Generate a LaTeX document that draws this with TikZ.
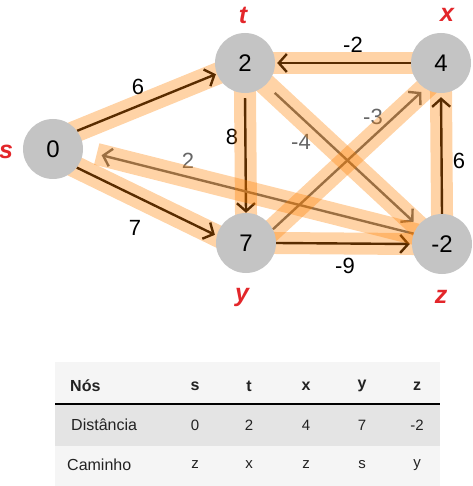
\documentclass[tikz,border=0pt]{standalone}
\usepackage{fontspec}
\setmainfont{Liberation Sans}
\usetikzlibrary{arrows.meta}
\definecolor{vfill}{HTML}{C4C4C4}
\definecolor{lblred}{HTML}{E3262A}
\definecolor{hilite}{HTML}{FF8000}
\definecolor{rowlight}{HTML}{F5F5F5}
\definecolor{rowdark}{HTML}{E4E4E4}
\definecolor{tabtext}{HTML}{222222}
\definecolor{greyedge}{HTML}{666666}
\pgfdeclarelayer{edges}
\pgfdeclarelayer{bands}
\pgfsetlayers{edges,bands,main}
\tikzset{
  vert/.style={circle, fill=vfill, minimum size=60pt, inner sep=0pt,
    font=\fontsize{24}{26}\selectfont},
  vname/.style={text=lblred, font=\fontsize{25}{27}\selectfont\bfseries\itshape},
  edge/.style={line width=2.4pt, draw=black,
    -{Straight Barb[length=8pt,width=18pt,line width=2.4pt]}},
  gedge/.style={edge, draw=greyedge},
  band/.style={line width=22pt, draw=hilite, draw opacity=0.35, line cap=butt,
    shorten <=-8pt, shorten >=-8pt},
  elabel/.style={font=\fontsize{22}{24}\selectfont, text=black, inner sep=0pt},
  glabel/.style={elabel, text=greyedge},
  thead/.style={font=\fontsize{16}{18}\selectfont\bfseries, text=tabtext, inner sep=0pt},
  tcell/.style={font=\fontsize{15}{17}\selectfont, text=tabtext, inner sep=0pt},
  trow/.style={font=\fontsize{16}{18}\selectfont, text=tabtext, inner sep=0pt, anchor=west},
}
\begin{document}
\begin{tikzpicture}[x=1pt,y=-1pt]
  \useasboundingbox (0,0) rectangle (472,486);

  % vertices with current distances
  \node[vert] (s) at (53,149) {0};
  \node[vert] (t) at (245,63) {2};
  \node[vert] (x) at (441,63) {4};
  \node[vert] (y) at (246,243) {7};
  \node[vert] (z) at (442,244) {-2};

  % vertex names
  \node[vname] (ns) at (6,152) {s};
  \node[vname] (nt) at (243,15) {t};
  \node[vname] (nx) at (447,15) {x};
  \node[vname] (ny) at (242,297) {y};
  \node[vname] (nz) at (441,297) {z};

  \begin{pgfonlayer}{edges}
    \draw[edge, shorten >=1pt] (s.37) -- (t.201);
    \draw[edge, shorten >=2pt] (s.-38) -- (y.166);
    \draw[edge, shorten <=5pt] (t.south) -- (y.north);
    \draw[edge, shorten >=2pt] (x.west) -- (t.east);
    \draw[edge, shorten >=4pt] (z.north) -- (x.south);
    \draw[edge, shorten >=2pt] (y.east) -- (z.west);
    \draw[gedge, shorten >=5pt] (y.27) -- (x.238);
    \draw[gedge, shorten <=12pt, shorten >=6pt] (t.-46) -- (z.143);
    \draw[gedge, shorten >=19pt] (z.160) -- (s.-3.5);

    % edge weights
    \node[elabel] (w1) at (138,87) {6};
    \node[elabel] (w2) at (135,228) {7};
    \node[elabel] (w3) at (232,137) {8};
    \node[elabel] (w4) at (353,45) {-2};
    \node[elabel] (w5) at (459,161) {6};
    \node[elabel] (w6) at (345,266) {-9};
    \node[glabel] (w7) at (373,117) {-3};
    \node[glabel] (w8) at (301,142) {-4};
    \node[glabel] (w9) at (188,161) {2};
  \end{pgfonlayer}

  % highlighted relaxation paths
  \begin{pgfonlayer}{bands}
    \draw[band] (s.37) -- (t.201);
    \draw[band] (s.-38) -- (y.166);
    \draw[band] (t.south) -- (y.north);
    \draw[band] (x.west) -- (t.east);
    \draw[band] (z.north) -- (x.south);
    \draw[band] (y.east) -- (z.west);
    \draw[band] (y.27) -- (x.238);
    \draw[band] (t.-46) -- (z.143);
    \draw[band, shorten >=14pt] (z.160) -- (s.-3.5);
  \end{pgfonlayer}

  % result table
  \fill[rowlight] (55,362) rectangle (440,404);
  \fill[rowdark] (55,404) rectangle (440,446);
  \fill[rowlight] (55,446) rectangle (440,486);
  \draw[line width=1.2pt, black] (55,404) -- (440,404);

  \node[thead, anchor=west] (hn) at (70,386) {Nós};
  \node[thead] (hs) at (195,386) {s};
  \node[thead] (ht) at (249,386) {t};
  \node[thead] (hx) at (306,386) {x};
  \node[thead] (hy) at (362,386) {y};
  \node[thead] (hz) at (417,386) {z};

  \node[trow] (rd) at (71,425) {Distância};
  \node[tcell] (d1) at (195,425) {0};
  \node[tcell] (d2) at (249,425) {2};
  \node[tcell] (d3) at (306,425) {4};
  \node[tcell] (d4) at (362,425) {7};
  \node[tcell] (d5) at (417,425) {-2};

  \node[trow] (rc) at (67,465) {Caminho};
  \node[tcell] (c1) at (195,465) {z};
  \node[tcell] (c2) at (249,465) {x};
  \node[tcell] (c3) at (306,465) {z};
  \node[tcell] (c4) at (362,465) {s};
  \node[tcell] (c5) at (417,465) {y};
\end{tikzpicture}
\end{document}
